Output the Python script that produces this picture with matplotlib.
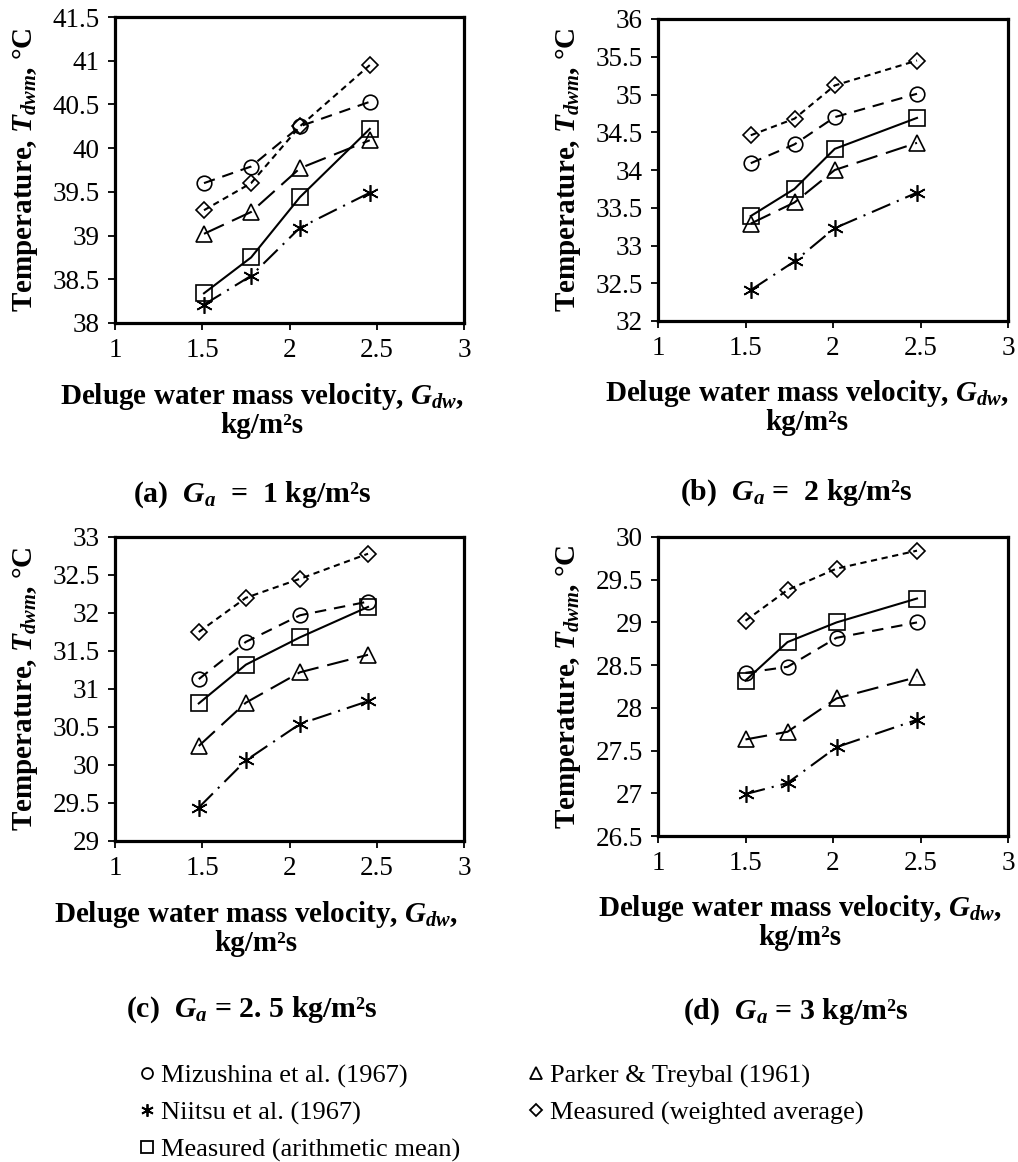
import matplotlib
matplotlib.use('Agg')
import matplotlib.pyplot as plt
from matplotlib.lines import Line2D
from matplotlib.ticker import FuncFormatter, MultipleLocator

plt.rcParams['font.family'] = 'Liberation Serif'
plt.rcParams['mathtext.fontset'] = 'custom'
plt.rcParams['mathtext.it'] = 'Liberation Serif:bold:italic'
plt.rcParams['mathtext.rm'] = 'Liberation Serif:bold'
plt.rcParams['mathtext.bf'] = 'Liberation Serif:bold'

# deluge water mass velocity per panel (a)-(d)
gdw = [[1.51, 1.78, 2.06, 2.46],
       [1.53, 1.78, 2.01, 2.48],
       [1.48, 1.75, 2.06, 2.45],
       [1.50, 1.74, 2.02, 2.48]]

# temperatures per series, one list per panel
mizushina = [[39.60, 39.79, 40.25, 40.53],
             [34.09, 34.34, 34.70, 35.01],
             [31.13, 31.62, 31.97, 32.15],
             [28.41, 28.48, 28.82, 29.00]]
parker = [[39.02, 39.27, 39.77, 40.09],
          [33.29, 33.57, 34.00, 34.36],
          [30.25, 30.82, 31.22, 31.45],
          [27.63, 27.72, 28.11, 28.36]]
niitsu = [[38.21, 38.54, 39.09, 39.49],
          [32.41, 32.79, 33.23, 33.70],
          [29.44, 30.06, 30.54, 30.84],
          [26.99, 27.12, 27.54, 27.86]]
weighted = [[39.29, 39.60, 40.25, 40.95],
            [34.46, 34.68, 35.12, 35.45],
            [31.75, 32.20, 32.45, 32.78],
            [29.02, 29.38, 29.63, 29.84]]
arith = [[38.34, 38.75, 39.44, 40.22],
         [33.39, 33.75, 34.28, 34.69],
         [30.81, 31.32, 31.68, 32.08],
         [28.32, 28.77, 29.00, 29.28]]

ylims = [(38, 41.5), (32, 36), (29, 33), (26.5, 30)]
captions = ['(a)  $G_a$  =  1 kg/m²s', '(b)  $G_a$ =  2 kg/m²s',
            '(c)  $G_a$ = 2. 5 kg/m²s', '(d)  $G_a$ = 3 kg/m²s']
series_names = ['Mizushina et al. (1967)', 'Parker & Treybal (1961)',
                'Niitsu et al. (1967)', 'Measured (weighted average)',
                'Measured (arithmetic mean)']

# styles: marker, dashes (None = solid), marker size
styles = {
    'Mizushina et al. (1967)': ('o', (5.5, 3.8), 10.5),
    'Parker & Treybal (1961)': ('^', (10.5, 4.3), 12),
    'Niitsu et al. (1967)': ((6, 2, 0), (9.6, 3.4, 1, 3.4), 12),
    'Measured (weighted average)': ('D', (3, 2.2), 8.5),
    'Measured (arithmetic mean)': ('s', None, 11),
}
data = {'Mizushina et al. (1967)': mizushina, 'Parker & Treybal (1961)': parker,
        'Niitsu et al. (1967)': niitsu, 'Measured (weighted average)': weighted,
        'Measured (arithmetic mean)': arith}

fig = plt.figure(figsize=(10.18, 11.62), dpi=100)
W, H = 1018, 1162
# axes boxes in pixels: left, top, right, bottom
boxes = [(115, 17, 464, 323), (658, 19, 1008, 321),
         (115, 537, 464, 841), (658, 537, 1008, 836)]
xlab_pos = [0.421, 0.426, 0.404, 0.405]
cap_pos = [(252, 495), (796, 493), (252, 1010), (796, 1012)]

for i in range(4):
    l, t, r, b = boxes[i]
    ax = fig.add_axes([l / W, 1 - b / H, (r - l) / W, (b - t) / H])
    for name in series_names:
        mk, dash, ms = styles[name]
        line, = ax.plot(gdw[i], data[name][i], color='black', lw=1.5,
                        marker=mk, ms=ms, mfc='none', mec='black', mew=1.2)
        if dash is not None:
            line.set_dashes(dash)
    ax.set_xlim(1, 3)
    ax.set_ylim(*ylims[i])
    ax.xaxis.set_major_locator(MultipleLocator(0.5))
    ax.yaxis.set_major_locator(MultipleLocator(0.5))
    fmt = FuncFormatter(lambda v, p: '{:g}'.format(v))
    ax.xaxis.set_major_formatter(fmt)
    ax.yaxis.set_major_formatter(fmt)
    for s in ax.spines.values():
        s.set_linewidth(2.3)
    ax.tick_params(direction='out', length=5, width=1.3, labelsize=19.5, pad=6)
    ax.set_xlabel('Deluge water mass velocity, $G_{dw}$,\nkg/m²s',
                  fontsize=21, fontweight='bold', linespacing=1.0)
    ax.xaxis.set_label_coords(xlab_pos[i], -0.19)
    ax.set_ylabel('Temperature, $T_{dwm}$, °C', fontsize=21, fontweight='bold')
    ax.yaxis.set_label_coords(-0.215, 0.5)
    cx, cy = cap_pos[i]
    fig.text(cx / W, 1 - cy / H, captions[i], fontsize=21.5, fontweight='bold',
             ha='center', va='center')

handles = []
order = ['Mizushina et al. (1967)', 'Niitsu et al. (1967)', 'Measured (arithmetic mean)',
         'Parker & Treybal (1961)', 'Measured (weighted average)']
for name in order:
    mk, dash, ms = styles[name]
    handles.append(Line2D([], [], ls='none', marker=mk, ms=ms * 0.75, mfc='none',
                          mec='black', mew=1.3, color='black', label=name))
fig.legend(handles=handles, ncol=2, loc='upper left', bbox_to_anchor=(140 / W, 1 - 1064 / H),
           frameon=False, fontsize=19, handlelength=0.5, handletextpad=0.3,
           labelspacing=0.5, columnspacing=2.6, borderpad=0, borderaxespad=0)

fig.savefig('out.png', dpi=100)
